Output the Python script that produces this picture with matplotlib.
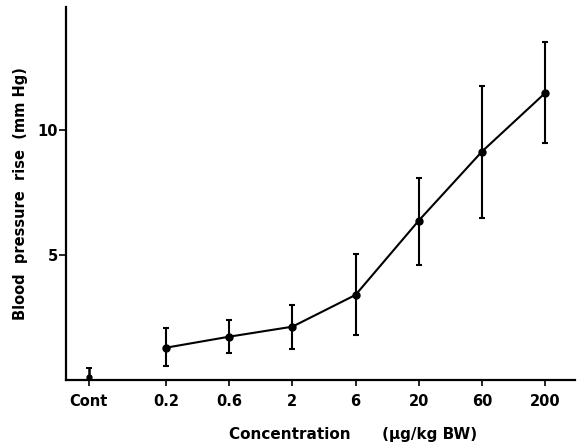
import numpy as np
import matplotlib
matplotlib.use("Agg")
import matplotlib.pyplot as plt

# Data
doses = ["0.2", "0.6", "2", "6", "20", "60", "200"]
rise = [1.29, 1.73, 2.13, 3.40, 6.37, 9.13, 11.47]
err_low = [0.72, 0.66, 0.90, 1.60, 1.77, 2.66, 2.00]
err_high = [0.78, 0.67, 0.87, 1.64, 1.72, 2.60, 2.03]

control_label = "Cont"
control_rise = 0.10
control_err = 0.38

plt.rcParams['font.family'] = ['DejaVu Sans']
plt.rcParams['font.weight'] = 'bold'

fig = plt.figure(figsize=(5.77, 4.46), dpi=100)
ax = fig.add_axes([0.1144, 0.148, 0.882, 0.836])

x = np.arange(len(doses))
x_cont = -1.22

ax.errorbar(x, rise, yerr=[err_low, err_high], fmt='o-', color='black',
            lw=1.5, ms=5, elinewidth=1.5, capsize=2.2, capthick=1.5)
ax.errorbar([x_cont], [control_rise], yerr=[[control_rise], [control_err]],
            fmt='o', color='black', ms=3.5, elinewidth=1.8, capsize=2, capthick=1.4,
            clip_on=False)

ax.set_xlim(-1.58, 6.47)
ax.set_ylim(0, 14.9)

ax.set_xticks([x_cont] + list(x))
ax.set_xticklabels([control_label] + doses)
ax.set_yticks([5, 10])

for s in ['top', 'right']:
    ax.spines[s].set_visible(False)
for s in ['left', 'bottom']:
    ax.spines[s].set_linewidth(1.6)

ax.tick_params(axis='x', direction='out', length=4, width=1.2, pad=6, labelsize=10.5)
ax.tick_params(axis='y', direction='out', length=5, width=1.2, pad=1, labelsize=10.5)

ax.set_ylabel("Blood  pressure  rise  (mm Hg)", fontsize=10.5, fontweight='bold')
ax.yaxis.set_label_coords(-0.075, 0.5)
ax.set_xlabel("Concentration      (\u00b5g/kg BW)", fontsize=11, fontweight='bold')
ax.xaxis.set_label_coords(0.564, -0.125)

fig.savefig("out.png", dpi=100)
